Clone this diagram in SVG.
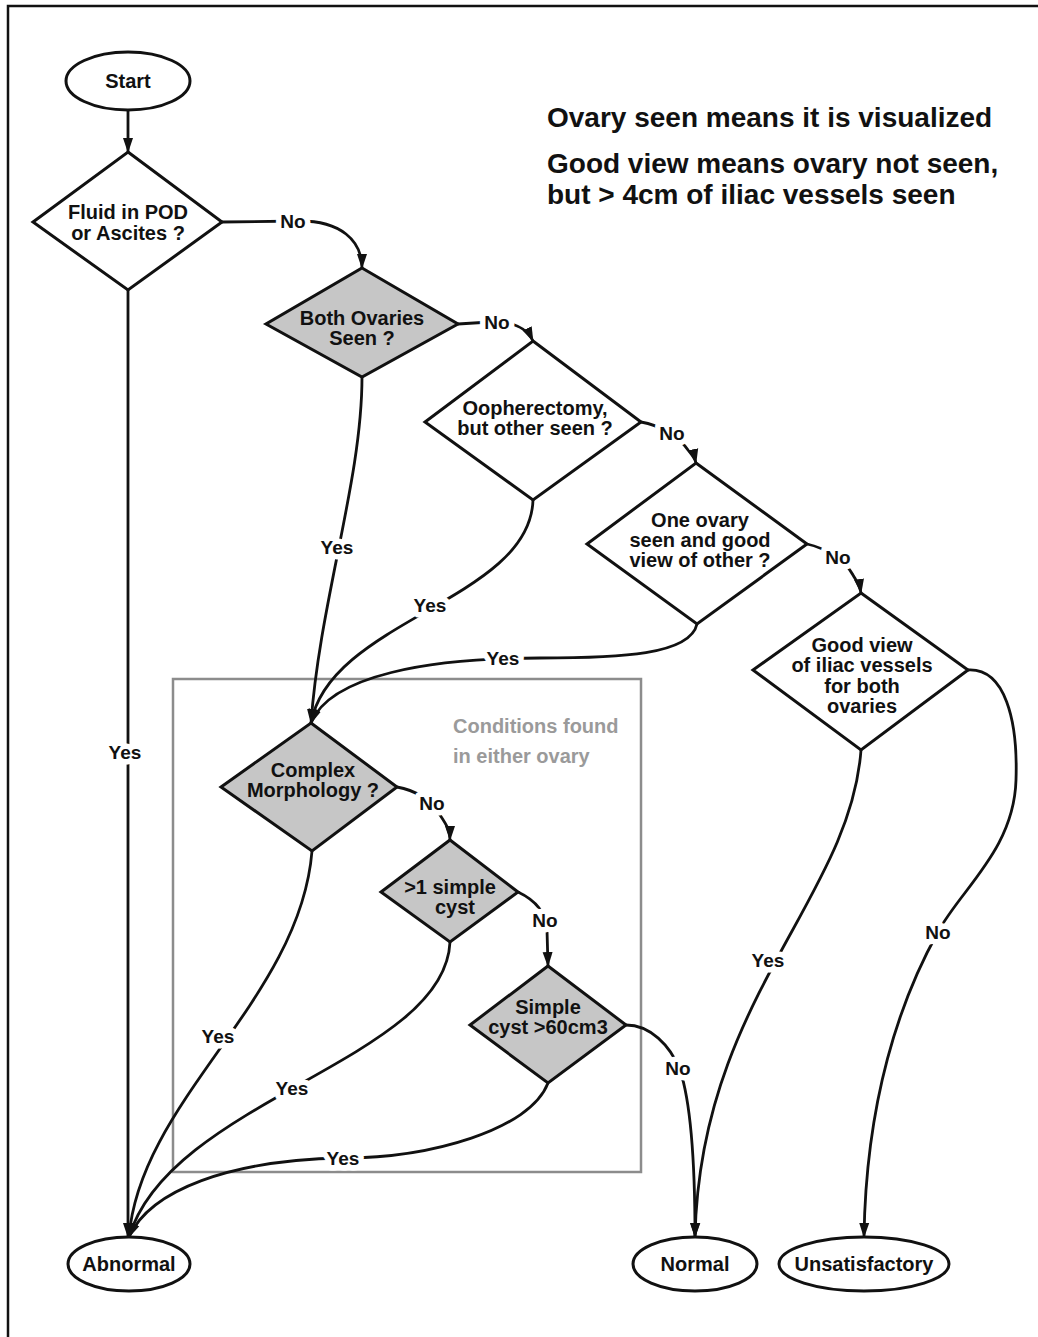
<svg xmlns="http://www.w3.org/2000/svg" width="1038" height="1337" viewBox="0 0 1038 1337">
<style>
text{font-family:"Liberation Sans",Arial,sans-serif;font-weight:bold;fill:#111;}
.nt{font-size:20px;text-anchor:middle;}
.lbl{font-size:19px;text-anchor:middle;stroke:#fff;stroke-width:11px;paint-order:stroke;stroke-linejoin:round;}
.title{font-size:28px;}
.note{font-size:20px;fill:#9a9a9a;}
.d{stroke:#111;stroke-width:3;stroke-linejoin:miter;}
.w{fill:#fff;}
.g{fill:#c6c6c6;}
.term{fill:#fff;stroke:#111;stroke-width:3;}
.conn path{fill:none;stroke:#111;stroke-width:2.8;}
</style>
<defs>
<marker id="arr" viewBox="0 0 15 11" refX="14" refY="5.5" markerWidth="15" markerHeight="11" orient="auto" markerUnits="userSpaceOnUse">
<path d="M0,0.5 L15,5.5 L0,10.5 Z" fill="#111"/>
</marker>
</defs>
<rect x="0" y="0" width="1038" height="1337" fill="#fff"/>
<polyline points="8,1337 8,6 1038,6" fill="none" stroke="#111" stroke-width="2.5"/>

<g id="notes">
<text class="title" x="547" y="127">Ovary seen means it is visualized</text>
<text class="title" x="547" y="173">Good view means ovary not seen,</text>
<text class="title" x="547" y="204">but &gt; 4cm of iliac vessels seen</text>
</g>

<g id="ovary-box">
<rect x="173" y="679" width="468" height="493" fill="none" stroke="#8c8c8c" stroke-width="2.5"/>
<text class="note" x="453" y="733">Conditions found</text>
<text class="note" x="453" y="763">in either ovary</text>
</g>

<g class="conn" id="connectors">
<path d="M128,110 L128,152" marker-end="url(#arr)"/>
<path d="M222,222 L300,221 C340,221 362,240 362,268" marker-end="url(#arr)"/>
<path d="M128,290 L128,1237" marker-end="url(#arr)"/>
<path d="M458,324 L490,322 C512,321 527,328 533,341" marker-end="url(#arr)"/>
<path d="M362,377 C362,480 320,600 311,723" marker-end="url(#arr)"/>
<path d="M533,500 C530,600 330,620 311,723" marker-end="url(#arr)"/>
<path d="M697,624 C690,655 620,658 540,658 C430,658 330,675 311,723" marker-end="url(#arr)"/>
<path d="M641,422 C660,425 680,438 688,450 C692,455 695,458 696,463" marker-end="url(#arr)"/>
<path d="M807,544 C825,548 845,560 853,575 C857,582 860,586 861,593" marker-end="url(#arr)"/>
<path d="M397,787 C415,790 430,800 440,815 C446,824 450,830 450,840" marker-end="url(#arr)"/>
<path d="M312,851 C300,1000 140,1100 129,1237" marker-end="url(#arr)"/>
<path d="M518,892 C535,900 546,912 547,930 L548,966" marker-end="url(#arr)"/>
<path d="M450,942 C445,1060 170,1100 129,1237" marker-end="url(#arr)"/>
<path d="M548,1083 C530,1130 430,1158 343,1158 C230,1160 150,1190 129,1237" marker-end="url(#arr)"/>
<path d="M626,1025 C650,1025 670,1045 680,1070 C690,1100 695,1160 695,1237" marker-end="url(#arr)"/>
<path d="M861,750 C850,900 700,1000 695,1237" marker-end="url(#arr)"/>
<path d="M968,670 C1005,668 1018,720 1016,780 C1014,850 960,890 938,932 C900,1000 866,1100 864,1237" marker-end="url(#arr)"/>
</g>

<g id="edge-labels">
<text class="lbl" x="293" y="228">No</text>
<text class="lbl" x="125" y="759">Yes</text>
<text class="lbl" x="497" y="329">No</text>
<text class="lbl" x="337" y="554">Yes</text>
<text class="lbl" x="430" y="612">Yes</text>
<text class="lbl" x="503" y="665">Yes</text>
<text class="lbl" x="672" y="440">No</text>
<text class="lbl" x="838" y="564">No</text>
<text class="lbl" x="432" y="810">No</text>
<text class="lbl" x="218" y="1043">Yes</text>
<text class="lbl" x="545" y="927">No</text>
<text class="lbl" x="292" y="1095">Yes</text>
<text class="lbl" x="343" y="1165">Yes</text>
<text class="lbl" x="678" y="1075">No</text>
<text class="lbl" x="768" y="967">Yes</text>
<text class="lbl" x="938" y="939">No</text>
</g>

<g id="start">
<ellipse class="term" cx="128" cy="81" rx="62" ry="29"/>
<text class="nt" x="128" y="88">Start</text>
</g>
<g id="fluid">
<polygon class="d w" points="128,152 222,222 128,290 33,222"/>
<text class="nt" x="128" y="219">Fluid in POD</text>
<text class="nt" x="128" y="240">or Ascites ?</text>
</g>
<g id="both-ovaries">
<polygon class="d g" points="362,268 458,324 362,377 266,324"/>
<text class="nt" x="362" y="325">Both Ovaries</text>
<text class="nt" x="362" y="345">Seen ?</text>
</g>
<g id="oopherectomy">
<polygon class="d w" points="533,341 641,422 533,500 425,422"/>
<text class="nt" x="535" y="415">Oopherectomy,</text>
<text class="nt" x="535" y="435">but other seen ?</text>
</g>
<g id="one-ovary">
<polygon class="d w" points="696,463 807,544 697,624 587,544"/>
<text class="nt" x="700" y="527">One ovary</text>
<text class="nt" x="700" y="547">seen and good</text>
<text class="nt" x="700" y="567">view of other ?</text>
</g>
<g id="good-view">
<polygon class="d w" points="861,593 968,670 861,750 753,670"/>
<text class="nt" x="862" y="652">Good view</text>
<text class="nt" x="862" y="672">of iliac vessels</text>
<text class="nt" x="862" y="693">for both</text>
<text class="nt" x="862" y="713">ovaries</text>
</g>
<g id="complex">
<polygon class="d g" points="311,723 397,787 312,851 221,787"/>
<text class="nt" x="313" y="777">Complex</text>
<text class="nt" x="313" y="797">Morphology ?</text>
</g>
<g id="simple-cysts">
<polygon class="d g" points="450,840 518,892 450,942 381,892"/>
<text class="nt" x="450" y="894">&gt;1 simple</text>
<text class="nt" x="455" y="914">cyst</text>
</g>
<g id="simple-cyst-60">
<polygon class="d g" points="548,966 626,1025 548,1083 470,1025"/>
<text class="nt" x="548" y="1014">Simple</text>
<text class="nt" x="548" y="1034">cyst &gt;60cm3</text>
</g>
<g id="abnormal">
<ellipse class="term" cx="129" cy="1264" rx="61" ry="27"/>
<text class="nt" x="129" y="1271">Abnormal</text>
</g>
<g id="normal">
<ellipse class="term" cx="695" cy="1264" rx="62" ry="27"/>
<text class="nt" x="695" y="1271">Normal</text>
</g>
<g id="unsatisfactory">
<ellipse class="term" cx="864" cy="1264" rx="85" ry="27"/>
<text class="nt" x="864" y="1271">Unsatisfactory</text>
</g>
</svg>
